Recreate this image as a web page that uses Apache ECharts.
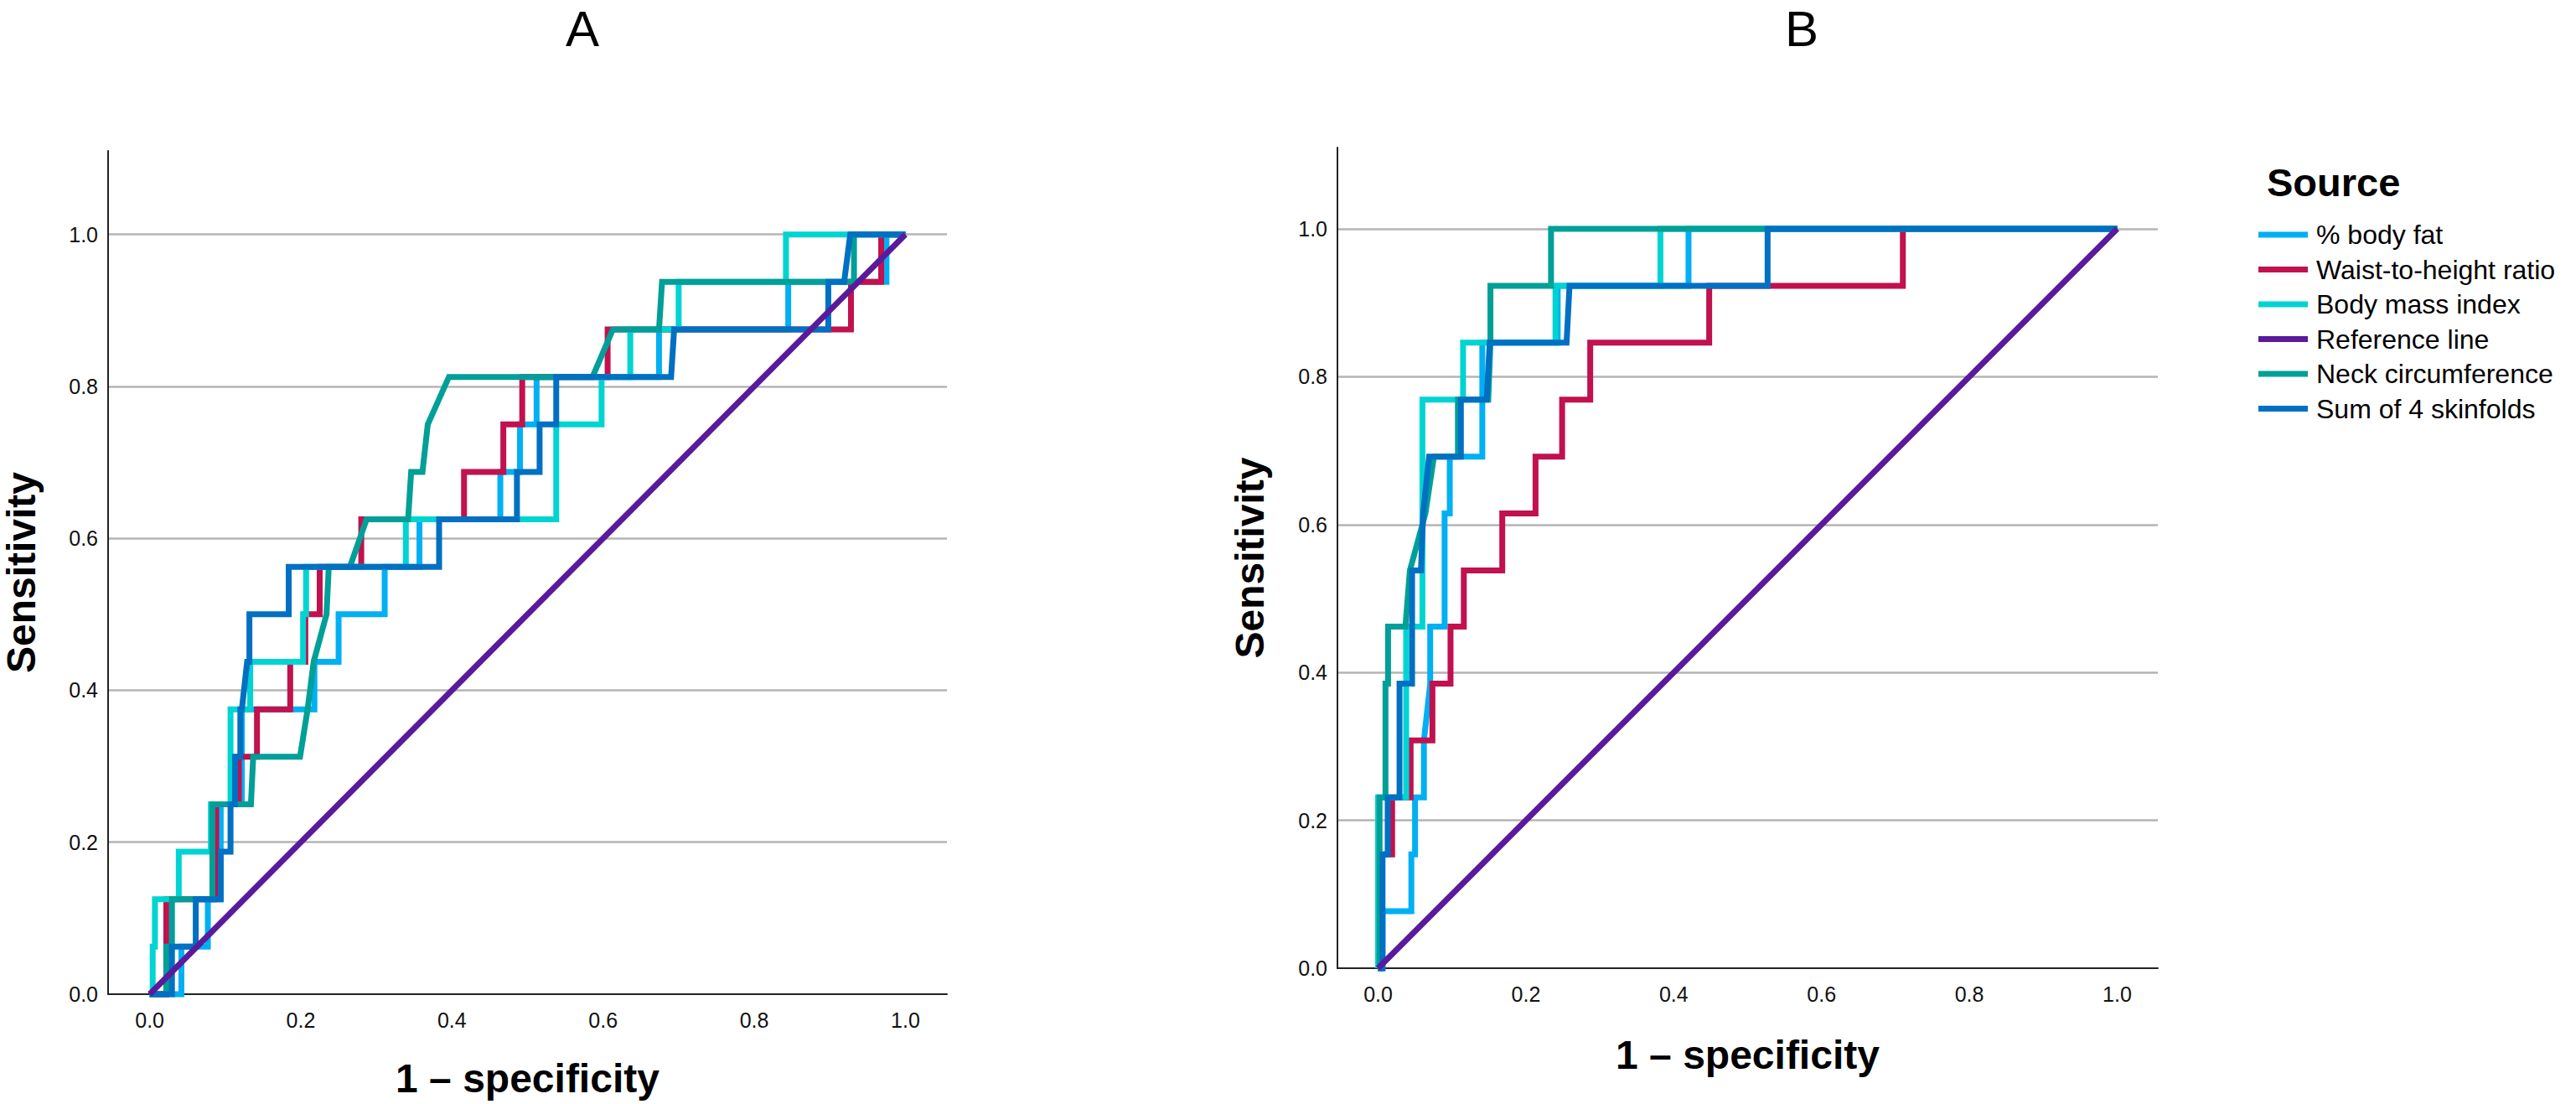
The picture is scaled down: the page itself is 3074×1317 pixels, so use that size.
<!DOCTYPE html>
<html>
<head>
<meta charset="utf-8">
<title>ROC curves</title>
<script src="https://cdn.jsdelivr.net/npm/echarts@6/dist/echarts.min.js"></script>
<style>
  html, body { margin: 0; padding: 0; background: #fff; }
  #chart { width: 3074px; height: 1317px; }
</style>
</head>
<body>
<div id="chart"></div>
<script>
// tick labels
const xTicks = [0, 0.2, 0.4, 0.6, 0.8, 1.0];
const legendNames = ['% body fat', 'Waist-to-height ratio', 'Body mass index',
  'Reference line', 'Neck circumference', 'Sum of 4 skinfolds'];

// panel A: [1 - specificity, sensitivity]
const bodyFatA = [[0,0],[0.042,0],[0.042,0.0625],[0.077,0.0625],[0.077,0.125],[0.094,0.125],[0.094,0.25],
  [0.122,0.25],[0.122,0.375],[0.218,0.375],[0.218,0.4375],[0.25,0.4375],[0.25,0.5],[0.311,0.5],[0.311,0.5625],
  [0.357,0.5625],[0.357,0.625],[0.464,0.625],[0.464,0.6875],[0.49,0.6875],[0.49,0.75],[0.512,0.75],
  [0.512,0.8125],[0.674,0.8125],[0.674,0.875],[0.845,0.875],[0.845,0.9375],[0.975,0.9375],[0.975,1],[1,1]];
const waistA = [[0,0],[0.022,0],[0.022,0.125],[0.088,0.125],[0.088,0.25],[0.118,0.25],[0.118,0.3125],
  [0.142,0.3125],[0.142,0.375],[0.186,0.375],[0.186,0.4375],[0.206,0.4375],[0.206,0.5],[0.225,0.5],
  [0.225,0.5625],[0.28,0.5625],[0.28,0.625],[0.416,0.625],[0.416,0.6875],[0.468,0.6875],[0.468,0.75],
  [0.493,0.75],[0.493,0.8125],[0.606,0.8125],[0.606,0.875],[0.928,0.875],[0.928,0.9375],[0.968,0.9375],
  [0.968,1],[1,1]];
const bmiA = [[0,0],[0.004,0],[0.004,0.0625],[0.007,0.0625],[0.007,0.125],[0.0385,0.125],[0.0385,0.1875],
  [0.081,0.1875],[0.081,0.25],[0.107,0.25],[0.107,0.375],[0.133,0.375],[0.133,0.4375],[0.203,0.4375],
  [0.203,0.5],[0.207,0.5],[0.207,0.5625],[0.339,0.5625],[0.339,0.625],[0.538,0.625],[0.538,0.75],
  [0.598,0.75],[0.598,0.8125],[0.636,0.8125],[0.636,0.875],[0.70,0.875],[0.70,0.9375],[0.842,0.9375],
  [0.842,1],[1,1]];
const neckA = [[0,0],[0.022,0],[0.022,0.0625],[0.0295,0.0625],[0.0295,0.125],[0.083,0.125],[0.083,0.25],
  [0.134,0.25],[0.137,0.3125],[0.199,0.3125],[0.209,0.375],[0.217,0.4375],[0.234,0.5],[0.237,0.5625],
  [0.265,0.5625],[0.287,0.625],[0.342,0.625],[0.346,0.6875],[0.361,0.6875],[0.368,0.75],[0.396,0.8125],
  [0.586,0.8125],[0.613,0.875],[0.674,0.875],[0.678,0.9375],[0.932,0.9375],[0.932,1],[1,1]];
const skinA = [[0,0],[0.0295,0],[0.0295,0.0625],[0.061,0.0625],[0.061,0.125],[0.094,0.125],[0.094,0.1875],
  [0.107,0.1875],[0.107,0.25],[0.113,0.25],[0.113,0.3125],[0.12,0.3125],[0.12,0.375],[0.122,0.375],
  [0.129,0.4375],[0.132,0.4375],[0.132,0.5],[0.184,0.5],[0.184,0.5625],[0.383,0.5625],[0.383,0.625],
  [0.486,0.625],[0.486,0.6875],[0.516,0.6875],[0.516,0.75],[0.538,0.75],[0.538,0.8125],[0.69,0.8125],
  [0.694,0.875],[0.898,0.875],[0.898,0.9375],[0.919,0.9375],[0.927,1],[1,1]];

// panel B
const bodyFatB = [[0,0],[0.006,0],[0.006,0.077],[0.045,0.077],[0.045,0.154],[0.05,0.154],[0.05,0.231],
  [0.062,0.231],[0.062,0.308],[0.0705,0.385],[0.0705,0.462],[0.09,0.462],[0.09,0.615],[0.097,0.615],
  [0.097,0.692],[0.141,0.692],[0.141,0.846],[0.243,0.846],[0.243,0.923],[0.42,0.923],[0.42,1],[1,1]];
const waistB = [[0,0],[0.004,0],[0.004,0.154],[0.019,0.154],[0.019,0.231],[0.044,0.231],[0.044,0.308],
  [0.0735,0.308],[0.0735,0.385],[0.098,0.385],[0.098,0.462],[0.116,0.462],[0.116,0.538],[0.168,0.538],
  [0.168,0.615],[0.213,0.615],[0.213,0.692],[0.249,0.692],[0.249,0.769],[0.287,0.769],[0.287,0.846],
  [0.448,0.846],[0.448,0.923],[0.71,0.923],[0.71,1],[1,1]];
const bmiB = [[0,0],[0,0.231],[0.038,0.231],[0.038,0.462],[0.06,0.462],[0.06,0.769],[0.115,0.769],
  [0.115,0.846],[0.24,0.846],[0.24,0.923],[0.382,0.923],[0.382,1],[1,1]];
const neckB = [[0,0],[0.002,0],[0.002,0.231],[0.01,0.231],[0.01,0.385],[0.0135,0.385],[0.0135,0.462],
  [0.037,0.462],[0.043,0.538],[0.064,0.615],[0.0755,0.692],[0.108,0.692],[0.108,0.769],[0.149,0.769],
  [0.152,0.846],[0.152,0.923],[0.234,0.923],[0.234,1],[1,1]];
const skinB = [[0,0],[0.006,0],[0.006,0.154],[0.013,0.154],[0.013,0.231],[0.029,0.231],[0.029,0.385],
  [0.046,0.385],[0.046,0.538],[0.058,0.538],[0.061,0.615],[0.069,0.692],[0.112,0.692],[0.112,0.769],
  [0.147,0.769],[0.151,0.846],[0.255,0.846],[0.259,0.923],[0.527,0.923],[0.527,1],[1,1]];

const refLine = [[0,0],[1,1]];

const FONT = '"Liberation Sans", Arial, Helvetica, sans-serif';
const colors = {
  bodyFat: '#00b0f2', waist: '#c1114f', bmi: '#00d4d3',
  ref: '#5a1a9b', neck: '#009f98', skin: '#0070c2'
};

let chart = echarts.init(document.getElementById('chart'), null, { renderer: 'svg' });

function xAxis(idx, gap) {
  return {
    type: 'value', gridIndex: idx, min: -0.055, max: 1.055,
    name: '1 \u2013 specificity', nameLocation: 'middle', nameGap: gap,
    nameTextStyle: { fontFamily: FONT, fontSize: 48, fontWeight: 'bold', color: '#000' },
    axisLine: { show: true, onZero: false, lineStyle: { color: '#222', width: 2 } },
    axisTick: { show: false },
    splitLine: { show: false },
    axisLabel: {
      customValues: xTicks, margin: 18, fontFamily: FONT, fontSize: 25, color: '#111',
      formatter: v => v.toFixed(1)
    }
  };
}

function yAxis(idx, gap) {
  return {
    type: 'value', gridIndex: idx, min: 0, max: 1.11, interval: 0.2,
    name: 'Sensitivity', nameLocation: 'middle', nameGap: gap, nameRotate: 90,
    nameTextStyle: { fontFamily: FONT, fontSize: 48, fontWeight: 'bold', color: '#000' },
    axisLine: { show: true, onZero: false, lineStyle: { color: '#222', width: 2 } },
    axisTick: { show: false },
    splitLine: {
      show: true, showMinLine: false, showMaxLine: false,
      lineStyle: { color: '#b4b4b4', width: 2.5 }
    },
    axisLabel: {
      margin: 12, padding: [10, 0, 0, 0], fontFamily: FONT, fontSize: 25, color: '#111',
      formatter: v => (v > 1.05 ? '' : v.toFixed(1))
    }
  };
}

function line(name, data, idx, color) {
  return {
    type: 'line', name: name, data: data, xAxisIndex: idx, yAxisIndex: idx,
    color: color, symbol: 'none', showSymbol: false, clip: false, silent: true,
    lineStyle: { width: 7, color: color, join: 'miter', cap: 'butt' }
  };
}

function panel(idx, d) {
  return [
    line('% body fat', d[0], idx, colors.bodyFat),
    line('Waist-to-height ratio', d[1], idx, colors.waist),
    line('Body mass index', d[2], idx, colors.bmi),
    line('Neck circumference', d[3], idx, colors.neck),
    line('Sum of 4 skinfolds', d[4], idx, colors.skin),
    line('Reference line', refLine, idx, colors.ref)
  ];
}

let option = {
  backgroundColor: '#fff',
  animation: false,
  grid: [
    { left: 123, top: 180, width: 1007, height: 1006 },
    { left: 1596, top: 176, width: 979, height: 979 }
  ],
  xAxis: [xAxis(0, 76), xAxis(1, 79)],
  yAxis: [yAxis(0, 80), yAxis(1, 81)],
  legend: {
    data: legendNames, orient: 'vertical', left: 2690, top: 254,
    icon: 'rect', itemWidth: 59, itemHeight: 7, itemGap: -0.5,
    itemStyle: { borderWidth: 0 }, selectedMode: false,
    textStyle: { fontFamily: FONT, fontSize: 32, color: '#000', lineHeight: 32, padding: [10, 0, 0, 5] }
  },
  graphic: [
    { type: 'text', x: 695, y: 34, silent: true,
      style: { text: 'A', font: '60px ' + FONT, fill: '#000', align: 'center', verticalAlign: 'middle',
        textAlign: 'center', textVerticalAlign: 'middle' } },
    { type: 'text', x: 2150, y: 34, silent: true,
      style: { text: 'B', font: '60px ' + FONT, fill: '#000', align: 'center', verticalAlign: 'middle',
        textAlign: 'center', textVerticalAlign: 'middle' } },
    { type: 'text', x: 2705, y: 217.5, silent: true,
      style: { text: 'Source', font: 'bold 47px ' + FONT, fill: '#000', align: 'left', verticalAlign: 'middle',
        textAlign: 'left', textVerticalAlign: 'middle' } }
  ],
  series: panel(0, [bodyFatA, waistA, bmiA, neckA, skinA])
    .concat(panel(1, [bodyFatB, waistB, bmiB, neckB, skinB]))
};

option && chart.setOption(option);
</script>
</body>
</html>
